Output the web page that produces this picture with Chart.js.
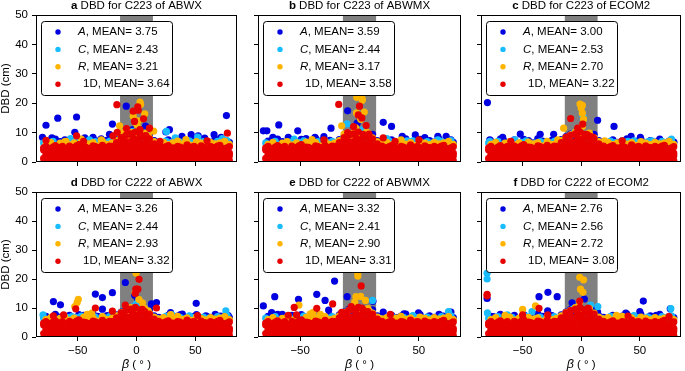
<!DOCTYPE html>
<html>
<head>
<meta charset="utf-8">
<script src="https://cdn.jsdelivr.net/npm/chart.js@4.4.1/dist/chart.umd.min.js"></script>
<style>
  html, body { margin: 0; padding: 0; background: #fff; }
  #wrap { position: relative; width: 685px; height: 371px; }
  #wrap canvas { position: absolute; left: 0; top: 0; }
</style>
</head>
<body>
<div id="wrap"></div>
<script>
// ---------- data ----------
const panelLetters = ['a', 'b', 'c', 'd', 'e', 'f'];
const panelTitles = [
  'DBD for C223 of ABWX', 'DBD for C223 of ABWMX', 'DBD for C223 of ECOM2',
  'DBD for C222 of ABWX', 'DBD for C222 of ABWMX', 'DBD for C222 of ECOM2'
];
const meanA = [3.75, 3.59, 3.00, 3.26, 3.32, 2.76];
const meanC = [2.43, 2.44, 2.53, 2.44, 2.41, 2.56];
const meanR = [3.21, 3.17, 2.70, 2.93, 2.90, 2.72];
const mean1D = [3.64, 3.58, 3.22, 3.32, 3.31, 3.08];
const xTickValues = [-50, 0, 50];
const yTickValues = [0, 10, 20, 30, 40, 50];
const shadedBeta = [-14, 14];

// dense low band (similar in every panel)
const betaGridA = [-79,-75,-71,-67,-63,-59,-55,-51,-47,-43,-39,-35,-31,-27,-23,-19,-15,-11,-7,-3,1,5,9,13,17,21,25,29,33,37,41,45,49,53,57,61,65,69,73,77];
const betaGridB = [-77,-73,-69,-65,-61,-57,-53,-49,-45,-41,-37,-33,-29,-25,-21,-17,-13,-9,-5,-1,3,7,11,15,19,23,27,31,35,39,43,47,51,55,59,63,67,71,75,79];
const bandRedBase = [0.4,0.2,0.6,0.3,0.5,0.2,0.4,0.6,0.3,0.5,0.2,0.4,0.6,0.3,0.5,0.2,0.4,0.7,0.5,0.8,0.6,0.5,0.3,0.4,0.6,0.2,0.5,0.3,0.4,0.6,0.2,0.5,0.3,0.4,0.6,0.3,0.5,0.2,0.4,0.5];
const bandRedLow  = [1.2,0.8,1.5,0.9,1.3,0.7,1.1,1.6,0.9,1.2,0.8,1.4,1.0,1.3,0.9,1.5,1.1,1.8,1.4,2.0,1.6,1.9,1.3,1.2,0.9,1.4,1.1,0.8,1.3,1.0,1.5,0.9,1.2,1.4,0.8,1.1,1.3,0.9,1.2,1.0];
const bandRedLow2 = [2.2,1.9,2.4,2.0,2.3,1.8,2.1,2.5,2.0,2.2,1.9,2.4,2.1,2.3,2.0,2.5,2.4,2.9,2.6,3.1,2.8,3.0,2.5,2.3,2.0,2.4,2.1,1.9,2.3,2.0,2.4,2.1,2.2,2.5,1.9,2.1,2.3,2.0,2.2,2.1];
const bandRedMid  = [3.1,2.6,3.4,2.8,3.0,3.5,2.7,3.2,2.9,3.3,2.6,3.1,3.4,2.8,3.0,3.6,3.9,4.2,3.8,4.5,4.1,4.4,3.7,3.5,3.0,3.3,2.8,3.2,2.9,3.4,2.7,3.1,3.3,2.8,3.0,3.5,2.9,3.2,2.7,3.0];
const bandRedMid2 = [4.1,3.8,4.3,3.9,4.2,3.7,4.0,4.4,3.8,4.1,3.9,4.3,3.7,4.0,4.2,4.1,5.0,5.6,5.3,6.2,5.8,6.0,5.2,4.6,4.1,3.9,4.2,4.0,3.8,4.3,4.0,3.7,4.2,3.9,4.1,3.8,4.2,4.4,3.9,4.0];
const bandRedHigh = [4.8,4.3,5.1,4.5,5.3,4.2,4.9,5.5,4.4,5.0,4.6,5.2,4.3,4.8,5.4,4.7,6.4,7.2,6.8,8.1,7.6,8.4,6.9,5.5,5.0,4.5,5.2,4.7,4.4,5.1,4.8,4.3,5.3,4.6,5.0,4.2,4.9,5.4,4.5,4.8];
const bandRedTop  = [5.3,4.6,5.6,4.9,4.4,5.4,4.8,5.9,5.1,4.5,5.5,4.9,5.7,5.0,5.3,6.6,8.3,9.1,9.6,10.2,9.4,8.8,7.9,6.2,5.4,4.9,5.6,4.8,5.3,4.6,5.8,5.1,4.7,5.5,4.9,5.3,5.0,5.7,4.5,5.2];
const bandA = [7.1,6.4,7.8,6.9,6.6,7.5,6.2,7.7,6.8,6.5,8.0,7.1,6.7,7.4,6.3,7.6,8.6,9.5,8.9,9.9,9.2,8.7,9.4,7.3,6.8,6.4,7.5,6.7,7.2,7.9,6.6,7.0,7.7,6.3,7.3,6.8,7.8,6.5,7.1,6.7];
const bandC = [6.5,5.9,7.0,5.7,6.3,6.8,5.9,6.7,7.2,6.1,6.4,6.9,5.8,6.5,7.0,6.2,7.5,8.0,9.6,10.4,9.1,7.8,8.2,6.8,6.4,5.9,7.1,6.6,6.0,6.8,6.3,7.2,6.7,6.1,6.9,6.4,5.8,7.0,6.5,7.3];
const bandR = [6.0,6.7,5.6,6.4,6.9,5.8,6.5,5.7,6.8,6.2,6.6,5.5,7.0,6.0,6.4,7.3,8.4,9.2,10.1,9.0,8.6,9.8,8.2,6.9,6.3,6.7,5.9,6.5,7.1,6.1,6.6,5.7,6.9,6.4,5.9,6.7,6.2,6.5,7.0,6.0];

// scattered points above the band, per panel: [beta, DBD]
const aOutA  = [[-80,8.4],[-77,12.5],[-67,14.9],[-72,8.2],[-61,7.5],[-52.5,10.1],[-51,15.3],[-37,8.4],[-23,9.4],[-20.5,12.9],[-8.7,19],[7.7,12.2],[25,10.2],[28,11],[38.7,8.7],[46.5,9.3],[52.5,8.9],[66,9.3],[72,8.4],[76.5,15.8],[79,6.3],[-3,11],[4,9],[-44,8.2],[-30,7.9],[58,8.1]];
const aOutC  = [[25.5,10.4],[52,8.5],[73,8],[-40,7.5],[-10,6.5],[-2,0.5],[4,0.8],[8,1.5],[-56,8],[33,8.2]];
const aOutR  = [[-14.4,12.3],[3,20.4],[3.5,19.6],[-2.8,15.6],[7,16.4],[1.5,14],[-8,8.2],[-5,9.5],[14.6,10.5],[0.5,12.5],[-30,7.5],[-60,7],[10,9],[-12,10],[-47,7.8],[42,7.6]];
const aOut1D = [[-16.7,19.5],[-16.4,10.1],[-20,8.9],[-77,7.4],[-51,8.9],[1.1,18.8],[1.5,17.6],[-2.8,17.3],[-1.7,13.8],[6,14.7],[-8.5,11.4],[11,11.5],[77.3,9.8],[-4,9.5],[3,11],[8,9],[-45,7],[20,7],[60,7.2]];

const bOutA  = [[-81,10.6],[-78,10.6],[-68,12.6],[-73,8.4],[-52,10.6],[-60,8.4],[-37.5,8.4],[-24,11.5],[-10,17.4],[-2,13.2],[20,13.5],[27,12.1],[36,8.7],[47,9.2],[66,8.7],[73,8.7],[77,7.5],[-45,8],[55,8.3],[-30,8.6]];
const bOutC  = [[-10.5,13],[3,11],[66,7.5],[-30,7],[40,7.2],[-2,0.5],[5,1],[-55,7.8],[23,8]];
const bOutR  = [[-2.3,22],[2.3,21.5],[2.3,21],[-2.5,16.7],[-3.2,11.6],[-13,9.5],[6,10.2],[-15,12.3],[1,14.5],[4,17],[-6,8.5],[10,8],[-40,7.6],[35,7.5]];
const bOut1D = [[-17.5,19.6],[0,19],[-10,10],[5.6,12.4],[20,8.2],[50,7.5],[-1,16],[2,15],[-5,12],[8,9.5],[-30,7.5],[30,7]];

const cOutA  = [[-80,20.2],[-78,7.5],[-67,8.4],[-52,9.5],[-45,7.3],[-35,9.4],[-23.5,9.4],[-9.5,9.2],[14,14.2],[28,12.1],[42.6,8.7],[50.5,8.4],[65,6.8],[79,6.8],[-3,11]];
const cOutC  = [[-78,7],[-56.5,7.5],[77,7.8],[1.5,15.7],[40,7],[60,7.2],[-30,6.8],[-3,0.5],[4,1]];
const cOutR  = [[-1,19.7],[1,19.3],[0,18.3],[1,16.6],[2,14.6],[1,12.1],[-15,11.5],[-5,9.8],[6,9.5],[-20,7.5],[20,7.2]];
const cOut1D = [[-9,14.8],[1.3,12.9],[-3,11.5],[5,9.3],[-12,8.5],[10,8.5],[-60,7],[35,7.2]];

const dOutA  = [[-79,7.2],[-70.7,12.2],[-64.7,11.1],[-35,14.8],[-29,13.6],[-20.5,15.3],[-29,9.6],[-9.5,18.8],[-1.5,14.4],[0.8,13.1],[12.7,11.4],[17,11.9],[29,8.4],[37.5,7.7],[50.8,11.6],[71.4,7.2],[78,7.4],[25,6.8],[-45,7.5],[60,7]];
const dOutC  = [[-79.5,7.6],[30,7.7],[76,9],[0,11.5],[-55,7],[45,7.3],[-2,0.5],[5,1.2]];
const dOutR  = [[-49.5,13],[-50.5,11.9],[-52.5,10.5],[-42,7.8],[-38,8.2],[-0.3,22],[-1.2,15.3],[5,11.8],[5.5,10],[29,7.7],[2,13],[-6,9],[10,9]];
const dOut1D = [[2.2,19.9],[-0.6,16.5],[1.2,16.5],[-1,15],[-51.7,9.7],[-35,10],[-20.5,8.9],[-9.5,11],[-70.7,7.3],[-62,7.6],[17,10],[52,7.4],[5,9.5],[-4,9]];

const eOutA  = [[-81,10.7],[-71.4,13.9],[-74,8.4],[-65,7.8],[-51.4,13],[-60,7.1],[-36,14.7],[-29,12.6],[-21,19.3],[-26,9.3],[-10.4,13.9],[11.3,12.3],[20,8.6],[37.5,8],[49.7,8.3],[70.6,7.2],[77,8.6]];
const eOutC  = [[75,8.8],[11,12.6],[45,7.4],[-10,7.5],[-2,0.5],[4,1]];
const eOutR  = [[-1.4,22],[-1.4,21],[-3,13.9],[1,14],[5,12.6],[-41.5,8],[-39,8.5],[-51,11],[-33,7.8],[-4,12],[8,9]];
const eOut1D = [[1.4,17.6],[-22.6,11.4],[-36,9.9],[-55,10.2],[-53,7.6],[-7,10.5],[2,10],[-15,8.5],[26,7.8],[-60,7.5]];

const fOutA  = [[-80.3,13.3],[-75,7],[-36,13.9],[-28.4,15.4],[-20.5,13.9],[-28.6,9],[-7.8,11.8],[2.7,13.1],[14,8.6],[38,8.2],[53,12.4],[50,8.8],[64,7.5],[76,9.7]];
const fOutC  = [[-80.3,22],[-80.3,20],[-80,8.3],[-63,7.6],[-42,8.8],[14.2,10.5],[76.5,9.8],[8,11],[45,7.4],[-10,8.5],[-2,0.5],[5,1]];
const fOutR  = [[-1.3,20.6],[2,19.7],[-0.6,16.5],[1.5,15.4],[-50,9.5],[-39,10.7],[-65,7.5],[-1.3,12],[30,7.5]];
const fOut1D = [[-80.3,14.7],[-80.3,14.2],[-1.3,12.4],[6,10],[-36,9.9],[-28.5,7.6],[-50,7.6],[40,7.2],[75,7],[-10,8]];

const outA  = [aOutA, bOutA, cOutA, dOutA, eOutA, fOutA];
const outC  = [aOutC, bOutC, cOutC, dOutC, eOutC, fOutC];
const outR  = [aOutR, bOutR, cOutR, dOutR, eOutR, fOutR];
const out1D = [aOut1D, bOut1D, cOut1D, dOut1D, eOut1D, fOut1D];

// ---------- style / layout ----------
const W = 685, H = 371;
const FONT = '"Liberation Sans", Arial, sans-serif';
const FS = 11.5;
const colA = '#0000e0', colC = '#18bcff', colR = '#ffb400', col1D = '#e60000';
const panelLeft   = [36, 258, 481, 36, 258, 481];
const panelRight  = [237, 461, 684, 237, 461, 684];
const panelTop    = [15, 15, 15, 192, 192, 192];
const panelBottom = [162, 162, 162, 337, 337, 337];
const Y_AXIS_W = 30, X_AXIS_H = 22;

function toPoints(xs, ys) {
  return xs.map((x, i) => ({ x: x, y: ys[i] }));
}
function pairs(list) {
  return list.map(p => ({ x: p[0], y: p[1] }));
}

const panelDecor = {
  id: 'panelDecor',
  beforeDatasetsDraw(chart) {
    const { ctx, chartArea: { top, bottom }, scales: { x } } = chart;
    const x0 = x.getPixelForValue(shadedBeta[0]);
    const x1 = x.getPixelForValue(shadedBeta[1]);
    ctx.save();
    ctx.fillStyle = '#808080';
    ctx.fillRect(x0, top, x1 - x0, bottom - top);
    ctx.restore();
  },
  afterDatasetsDraw(chart) {
    const i = chart.options.plugins.panelDecor.index;
    const { ctx, chartArea: { top, bottom, left, right } } = chart;
    ctx.save();

    // legend box
    const bx = left + 5, by = top + 6, bw = 131, bh = 74;
    ctx.beginPath();
    ctx.roundRect(bx + 0.5, by + 0.5, bw, bh, 3);
    ctx.fillStyle = '#fff';
    ctx.fill();
    ctx.strokeStyle = '#000';
    ctx.lineWidth = 1;
    ctx.stroke();

    const rows = [
      [colA, 'A', meanA[i]],
      [colC, 'C', meanC[i]],
      [colR, 'R', meanR[i]],
      [col1D, '1D', mean1D[i]]
    ];
    ctx.textBaseline = 'middle';
    ctx.textAlign = 'left';
    rows.forEach((r, k) => {
      const ry = by + 11 + k * 17.4;
      ctx.beginPath();
      ctx.fillStyle = r[0];
      ctx.arc(bx + 17, ry, 2.7, 0, Math.PI * 2);
      ctx.fill();
      ctx.fillStyle = '#000';
      let tx = bx + 37;
      if (r[1] === '1D') {
        ctx.font = `${FS}px ${FONT}`;
        ctx.fillText('1D, MEAN= ' + r[2].toFixed(2), tx + 5, ry);
      } else {
        ctx.font = `italic ${FS}px ${FONT}`;
        ctx.fillText(r[1], tx, ry);
        tx += ctx.measureText(r[1]).width;
        ctx.font = `${FS}px ${FONT}`;
        ctx.fillText(', MEAN= ' + r[2].toFixed(2), tx, ry);
      }
    });

    // frame
    ctx.strokeStyle = '#000';
    ctx.lineWidth = 1;
    ctx.strokeRect(Math.round(left) + 0.5, Math.round(top) + 0.5,
      Math.round(right - left) - 1, Math.round(bottom - top) - 1);
    ctx.restore();
  },
  afterDraw(chart) {
    const i = chart.options.plugins.panelDecor.index;
    const { ctx, chartArea: { top, bottom, left, right } } = chart;
    const cx = (left + right) / 2;
    ctx.save();
    ctx.fillStyle = '#000';
    ctx.textBaseline = 'middle';
    ctx.textAlign = 'left';

    // panel title: bold letter + text
    ctx.font = `bold ${FS}px ${FONT}`;
    const lw = ctx.measureText(panelLetters[i] + ' ').width;
    ctx.font = `${FS}px ${FONT}`;
    const tw = ctx.measureText(panelTitles[i]).width;
    const tx = cx - (lw + tw) / 2;
    const ty = top - 9.5;
    ctx.font = `bold ${FS}px ${FONT}`;
    ctx.fillText(panelLetters[i] + ' ', tx, ty);
    ctx.font = `${FS}px ${FONT}`;
    ctx.fillText(panelTitles[i], tx + lw, ty);

    // y axis title
    if (i % 3 === 0) {
      ctx.save();
      ctx.translate(6, (top + bottom) / 2);
      ctx.rotate(-Math.PI / 2);
      ctx.textAlign = 'center';
      ctx.font = `${FS}px ${FONT}`;
      ctx.fillText('DBD (cm)', 0, 0);
      ctx.restore();
    }

    // x axis title
    if (i >= 3) {
      ctx.font = `italic ${FS + 1}px ${FONT}`;
      const bw = ctx.measureText('\u03b2').width;
      ctx.font = `${FS}px ${FONT}`;
      const rest = ' ( \u00b0 )';
      const rw = ctx.measureText(rest).width;
      const sx = cx - (bw + rw) / 2;
      ctx.font = `italic ${FS + 1}px ${FONT}`;
      ctx.fillText('\u03b2', sx, 365);
      ctx.font = `${FS}px ${FONT}`;
      ctx.fillText(rest, sx + bw, 365);
    }
    ctx.restore();
  }
};

function makePanel(i) {
  const canvas = document.createElement('canvas');
  canvas.width = W;
  canvas.height = H;
  canvas.style.width = W + 'px';
  canvas.style.height = H + 'px';
  document.getElementById('wrap').appendChild(canvas);

  const showX = i >= 3;
  const showY = i % 3 === 0;

  const dataA = toPoints(betaGridB, bandA).concat(pairs(outA[i]));
  const dataC = toPoints(betaGridA, bandC).concat(pairs(outC[i]));
  const dataR = toPoints(betaGridB, bandR).concat(pairs(outR[i]));
  const data1D = toPoints(betaGridB, bandRedBase)
    .concat(toPoints(betaGridA, bandRedLow))
    .concat(toPoints(betaGridB, bandRedLow2))
    .concat(toPoints(betaGridB, bandRedMid))
    .concat(toPoints(betaGridA, bandRedMid2))
    .concat(toPoints(betaGridA, bandRedHigh))
    .concat(toPoints(betaGridB, bandRedTop))
    .concat(pairs(out1D[i]));

  const ds = (label, data, color) => ({
    label: label,
    data: data,
    backgroundColor: color,
    borderWidth: 0,
    pointRadius: 3.6,
    pointHoverRadius: 3.6,
    clip: 0
  });

  return new Chart(canvas, {
    type: 'scatter',
    data: {
      // first dataset is drawn on top
      datasets: [
        ds('1D', data1D, col1D),
        ds('R', dataR, colR),
        ds('C', dataC, colC),
        ds('A', dataA, colA)
      ]
    },
    options: {
      responsive: false,
      animation: false,
      events: [],
      layout: {
        padding: {
          left: panelLeft[i] - Y_AXIS_W,
          right: W - panelRight[i],
          top: panelTop[i],
          bottom: H - panelBottom[i] - X_AXIS_H
        }
      },
      plugins: {
        legend: { display: false },
        tooltip: { enabled: false },
        panelDecor: { index: i }
      },
      scales: {
        x: {
          type: 'linear',
          min: -85.5,
          max: 85.5,
          afterFit: (s) => { s.height = X_AXIS_H; },
          afterBuildTicks: (s) => { s.ticks = xTickValues.map(v => ({ value: v })); },
          border: { display: false },
          grid: { display: true, drawOnChartArea: false, drawTicks: true, tickLength: 4, color: '#000' },
          ticks: {
            display: showX,
            color: '#000',
            padding: 3,
            maxRotation: 0,
            font: { family: FONT, size: FS },
            callback: (v) => String(v).replace('-', '\u2212')
          }
        },
        y: {
          min: 0,
          max: 50,
          afterFit: (s) => { s.width = Y_AXIS_W; },
          afterBuildTicks: (s) => { s.ticks = yTickValues.map(v => ({ value: v })); },
          border: { display: false },
          grid: { display: true, drawOnChartArea: false, drawTicks: true, tickLength: 4, color: '#000' },
          ticks: {
            display: showY,
            color: '#000',
            padding: 4,
            font: { family: FONT, size: FS }
          }
        }
      }
    },
    plugins: [panelDecor]
  });
}

for (let i = 0; i < 6; i++) makePanel(i);
</script>
</body>
</html>
